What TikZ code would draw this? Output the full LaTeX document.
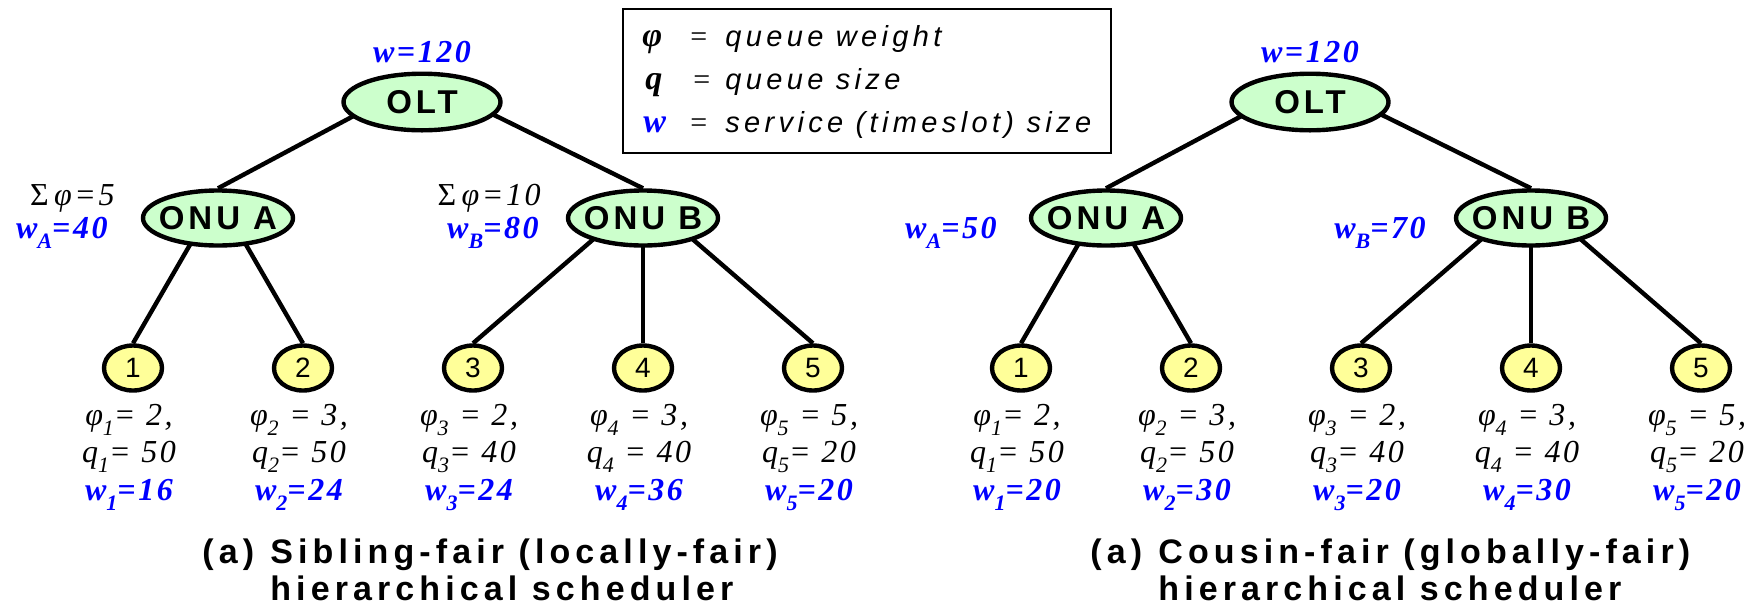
\documentclass[tikz,border=0pt]{standalone}
\usepackage{fontspec}
\setmainfont{Liberation Serif}
\newfontfamily\sansnode{Liberation Sans}[LetterSpace=12]
\newfontfamily\sansleaf{Liberation Sans}
\newfontfamily\sanscap{Liberation Sans}[LetterSpace=15]
\newfontfamily\sanslegend{Liberation Sans}[LetterSpace=15]
\newfontfamily\serifval{Liberation Serif}[LetterSpace=8]
\usetikzlibrary{shapes.geometric,backgrounds}

\definecolor{onugreen}{RGB}{204,255,204}
\definecolor{leafyellow}{RGB}{255,255,153}
\definecolor{wblue}{RGB}{0,0,255}

% lowered index
\newcommand\lo[1]{\raisebox{-5pt}{\fontsize{11}{11}\selectfont #1}}

% one scheduler tree: #1 name prefix, #2 horizontal offset, #3..#7 leaf service sizes
\newcommand\schedtree[7]{%
  \node[olthub] (#1olt) at (422+#2,102) {\makebox[0pt]{OLT}};
  \node[onuhub] (#1onua) at (218+#2,218) {\makebox[0pt]{ONU A}};
  \node[onuhub] (#1onub) at (643+#2,218) {\makebox[0pt]{ONU B}};
  \node[leaf] (#1q1) at (133+#2,368) {\makebox[0pt]{1}};
  \node[leaf] (#1q2) at (303+#2,368) {\makebox[0pt]{2}};
  \node[leaf] (#1q3) at (473+#2,368) {\makebox[0pt]{3}};
  \node[leaf] (#1q4) at (643+#2,368) {\makebox[0pt]{4}};
  \node[leaf] (#1q5) at (813+#2,368) {\makebox[0pt]{5}};
  \begin{pgfonlayer}{background}
    \draw[edge] ([yshift=-4pt]#1olt.north) -- (#1onua.north);
    \draw[edge] ([yshift=-4pt]#1olt.north) -- (#1onub.north);
    \draw[edge] ([yshift=-4pt]#1onua.north) -- (#1q1.north);
    \draw[edge] ([yshift=-4pt]#1onua.north) -- (#1q2.north);
    \draw[edge] ([yshift=-4pt]#1onub.north) -- (#1q3.north);
    \draw[edge] ([yshift=-4pt]#1onub.north) -- (#1q4.north);
    \draw[edge] ([yshift=-4pt]#1onub.north) -- (#1q5.north);
  \end{pgfonlayer}
  \node[wval, anchor=base] (#1wroot) at (422+#2,62) {w=120};
  % queue weights, queue sizes and service sizes under the leaves
  \node[tval, anchor=base] (#1p1) at (129+#2,425) {φ\lo{1}= 2,};
  \node[tval, anchor=base] (#1s1) at (129+#2,462) {q\lo{1}= 50};
  \node[wval, anchor=base] (#1w1) at (129+#2,500) {w\lo{1}=#3};
  \node[tval, anchor=base] (#1p2) at (299+#2,425) {φ\lo{2} = 3,};
  \node[tval, anchor=base] (#1s2) at (299+#2,462) {q\lo{2}= 50};
  \node[wval, anchor=base] (#1w2) at (299+#2,500) {w\lo{2}=#4};
  \node[tval, anchor=base] (#1p3) at (469+#2,425) {φ\lo{3} = 2,};
  \node[tval, anchor=base] (#1s3) at (469+#2,462) {q\lo{3}= 40};
  \node[wval, anchor=base] (#1w3) at (469+#2,500) {w\lo{3}=#5};
  \node[tval, anchor=base] (#1p4) at (639+#2,425) {φ\lo{4} = 3,};
  \node[tval, anchor=base] (#1s4) at (639+#2,462) {q\lo{4} = 40};
  \node[wval, anchor=base] (#1w4) at (639+#2,500) {w\lo{4}=#6};
  \node[tval, anchor=base] (#1p5) at (809+#2,425) {φ\lo{5} = 5,};
  \node[tval, anchor=base] (#1s5) at (809+#2,462) {q\lo{5}= 20};
  \node[wval, anchor=base] (#1w5) at (809+#2,500) {w\lo{5}=#7};
}

\begin{document}
\begin{tikzpicture}[x=0.5pt,y=-0.5pt,
  olthub/.style={ellipse, draw, line width=2.2pt, fill=onugreen,
    minimum width=78.5pt, minimum height=28.3pt, inner sep=0pt,
    font=\sansnode\bfseries\fontsize{16.5}{16.5}\selectfont},
  onuhub/.style={olthub, minimum width=75pt, minimum height=27.5pt},
  leaf/.style={ellipse, draw, line width=2.2pt, fill=leafyellow,
    minimum width=29pt, minimum height=22.5pt, inner sep=0pt,
    font=\sansleaf\fontsize{14}{14}\selectfont},
  edge/.style={line width=2.2pt},
  tval/.style={inner sep=0pt, font=\serifval\itshape\fontsize{16}{16}\selectfont},
  wval/.style={inner sep=0pt, text=wblue, font=\serifval\bfseries\itshape\fontsize{16}{16}\selectfont},
  legsym/.style={inner sep=0pt, anchor=base west, font=\bfseries\itshape\fontsize{17}{17}\selectfont},
  legeq/.style={inner sep=0pt, anchor=base west, font=\fontsize{15}{15}\selectfont},
  legtxt/.style={inner sep=0pt, anchor=base west, font=\sanslegend\itshape\fontsize{14.5}{14.5}\selectfont},
  captxt/.style={inner sep=0pt, anchor=base west, font=\sanscap\bfseries\fontsize{17}{17}\selectfont}
]
\useasboundingbox (0,0) rectangle (1759,606);

% sibling-fair tree
\schedtree{s}{0}{16}{24}{24}{36}{20}
\node[tval, anchor=base east] (sphia) at (115,205) {{\upshape Σ}\,φ=5};
\node[wval, anchor=base east] (swa) at (108,238) {w\lo{A}=40};
\node[tval, anchor=base east] (sphib) at (541,205) {{\upshape Σ}\,φ=10};
\node[wval, anchor=base east] (swb) at (539,238) {w\lo{B}=80};
\node[captxt] (scapa) at (202,563) {(a)};
\node[captxt] (scap1) at (270,563) {Sibling-fair (locally-fair)};
\node[captxt] (scap2) at (270,600) {hierarchical scheduler};

% cousin-fair tree
\schedtree{c}{888}{20}{30}{20}{30}{20}
\node[wval, anchor=base east] (cwa) at (997,238) {w\lo{A}=50};
\node[wval, anchor=base east] (cwb) at (1426,238) {w\lo{B}=70};
\node[captxt] (ccapa) at (1090,563) {(a)};
\node[captxt] (ccap1) at (1158,563) {Cousin-fair (globally-fair)};
\node[captxt] (ccap2) at (1158,600) {hierarchical scheduler};

% legend
\draw[line width=0.8pt] (623,9) rectangle (1111,153);
\node[legsym] (lphi) at (642,46) {φ};
\node[legeq] (leq1) at (690,46) {=};
\node[legtxt] (lt1) at (725,46) {queue weight};
\node[legsym] (lq) at (645,89) {q};
\node[legeq] (leq2) at (693,89) {=};
\node[legtxt] (lt2) at (725,89) {queue size};
\node[legsym, text=wblue] (lw) at (643,132) {w};
\node[legeq] (leq3) at (690,132) {=};
\node[legtxt] (lt3) at (725,132) {service (timeslot) size};
\end{tikzpicture}
\end{document}
